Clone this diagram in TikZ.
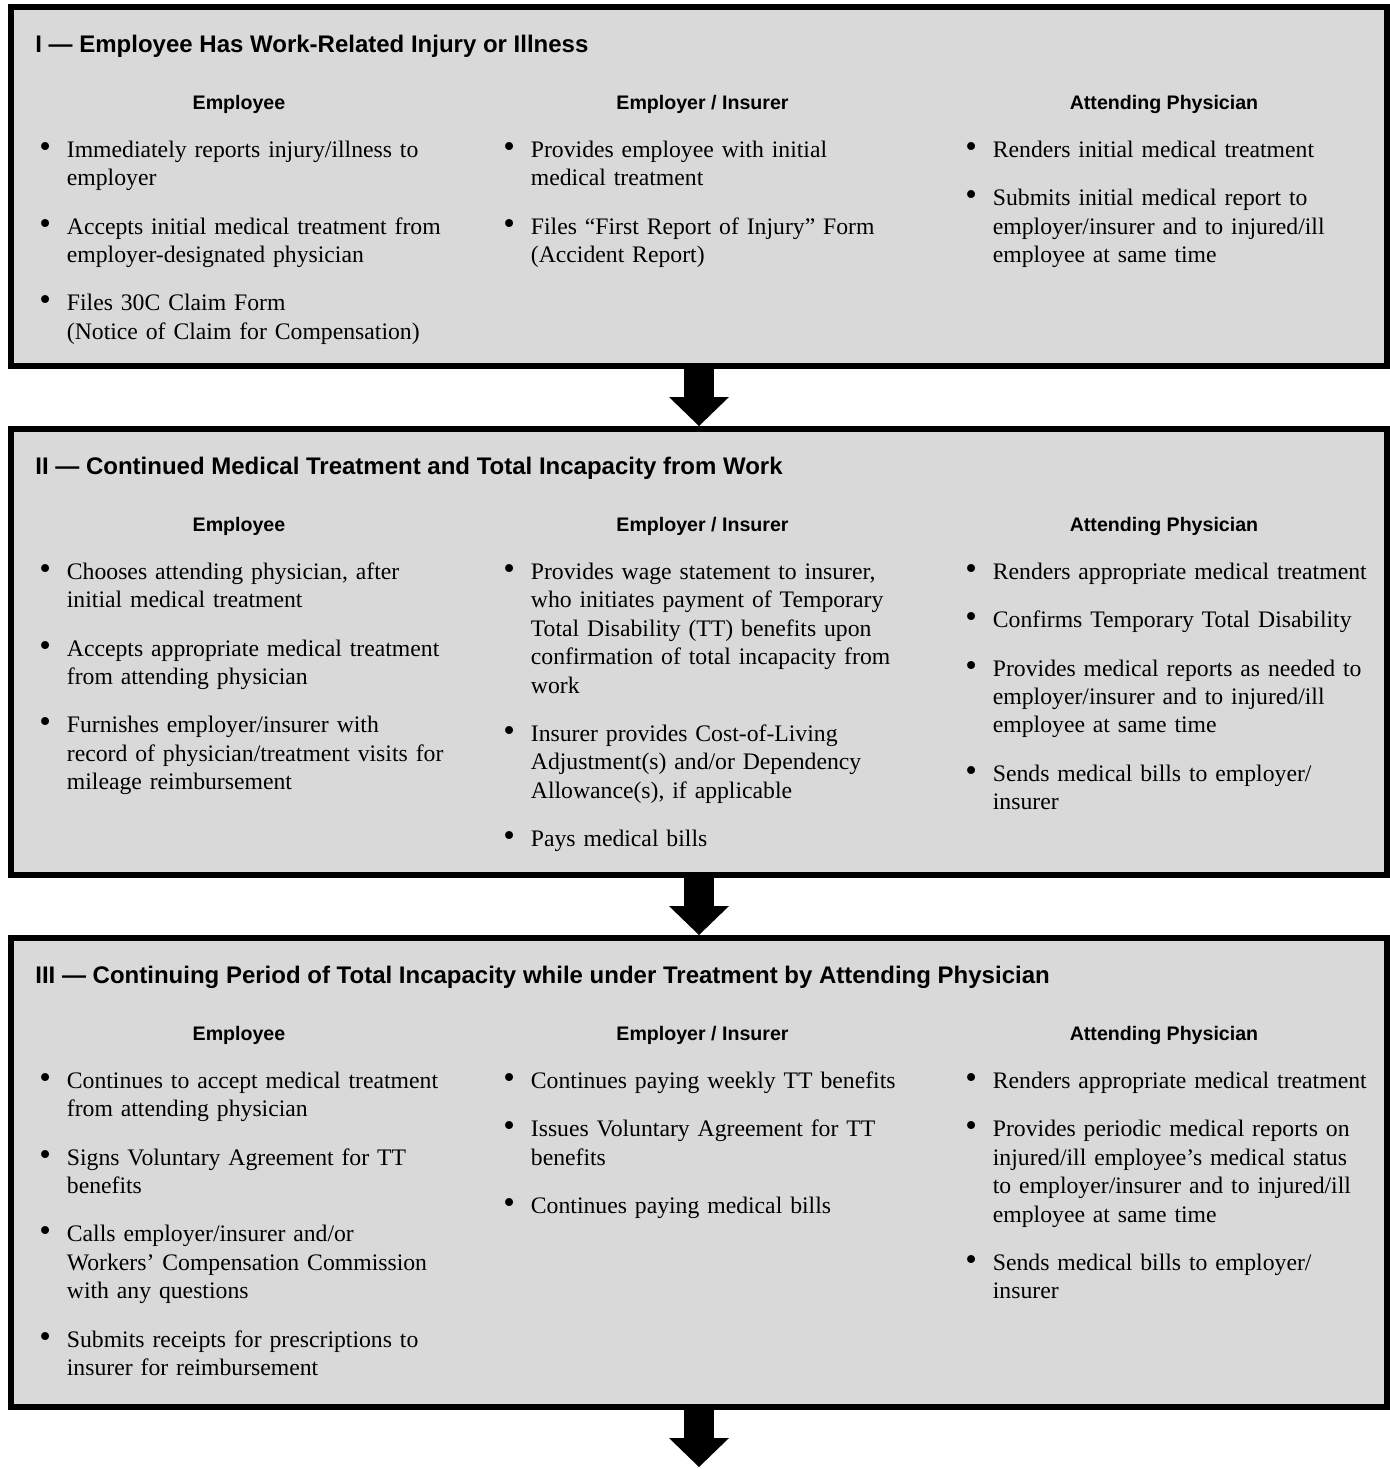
\documentclass[tikz,border=0pt]{standalone}
\usepackage{fontspec}
\setmainfont{Liberation Serif}
\setsansfont{Liberation Sans}
\usepackage{graphicx}
\usepackage{xcolor}
\usepackage{tikz}
\usetikzlibrary{positioning,arrows.meta,calc}
\definecolor{boxgray}{RGB}{217,217,217}
\newcommand{\bitem}[1]{\noindent\hangindent=13.75pt\hangafter=1%
  \makebox[13.75pt][l]{\scalebox{1.4}{\textbullet}}#1\par\vspace{9.95pt}}

\begin{document}
\begin{tikzpicture}[
    x=0.5pt, y=-0.5pt,
    stage/.style={
        draw,
        line width=3pt,
        fill=boxgray,
        minimum width=688pt,
        inner sep=0pt
    },
    title/.style={font=\fontsize{12pt}{14pt}\sffamily\bfseries,
                  anchor=base west, inner sep=0pt},
    colhead/.style={font=\fontsize{9.8pt}{12pt}\sffamily\bfseries,
                    anchor=base, inner sep=0pt},
    col/.style={text width=215pt, anchor=base west, inner sep=0pt,
                font=\fontsize{11.85pt}{14.2pt}\selectfont},
    flow/.style={line width=15pt,
                 -{Triangle[length=14.5pt,width=30pt,line width=0pt]}}
]
\useasboundingbox (0,0) rectangle (1390,1469);

\node[stage, minimum height=179.5pt] (s1) at (699,186.5) {};
\node[stage, minimum height=223pt] (s2) at (699,652) {};
\node[stage, minimum height=234.5pt] (s3) at (699,1172.5) {};

\draw[flow] (s1) -- (s2);
\draw[flow] (s2) -- (s3);
\coordinate (out) at ([yshift=-28.5pt]s3.south);
\draw[flow] (s3.south) -- (out);

% stage titles
\node[title] (t1) at ([xshift=13.5pt,yshift=-24.15pt]s1.north west)
    {I — Employee Has Work-Related Injury or Illness};
\node[title] (t2) at ([xshift=13.5pt,yshift=-24.15pt]s2.north west)
    {II — Continued Medical Treatment and Total Incapacity from Work};
\node[title] (t3) at ([xshift=13.5pt,yshift=-24.15pt]s3.north west)
    {III — Continuing Period of Total Incapacity while under Treatment by Attending Physician};

% column headings, same in every stage
\foreach \s in {s1,s2,s3}{
    \node[colhead] (\s-hemp) at ([xshift=115.5pt,yshift=-52.75pt]\s.north west) {Employee};
    \node[colhead] (\s-hins) at ([xshift=347.25pt,yshift=-52.75pt]\s.north west) {Employer / Insurer};
    \node[colhead] (\s-hphy) at ([xshift=578pt,yshift=-52.75pt]\s.north west) {Attending Physician};
}

% stage I
\node[col] (s1-emp) at ([xshift=15.5pt,yshift=-76.75pt]s1.north west) {%
    \bitem{Immediately reports injury/illness to\newline employer}
    \bitem{Accepts initial medical treatment from\newline employer-designated physician}
    \bitem{Files 30C Claim Form\newline (Notice of Claim for Compensation)}};
\node[col] (s1-ins) at ([xshift=247.5pt,yshift=-76.75pt]s1.north west) {%
    \bitem{Provides employee with initial\newline medical treatment}
    \bitem{Files “First Report of Injury” Form\newline (Accident Report)}};
\node[col] (s1-phy) at ([xshift=478.5pt,yshift=-76.75pt]s1.north west) {%
    \bitem{Renders initial medical treatment}
    \bitem{Submits initial medical report to\newline employer/insurer and to injured/ill\newline employee at same time}};

% stage II
\node[col] (s2-emp) at ([xshift=15.5pt,yshift=-76.75pt]s2.north west) {%
    \bitem{Chooses attending physician, after\newline initial medical treatment}
    \bitem{Accepts appropriate medical treatment\newline from attending physician}
    \bitem{Furnishes employer/insurer with\newline record of physician/treatment visits for\newline mileage reimbursement}};
\node[col] (s2-ins) at ([xshift=247.5pt,yshift=-76.75pt]s2.north west) {%
    \bitem{Provides wage statement to insurer,\newline who initiates payment of Temporary\newline Total Disability (TT) benefits upon\newline confirmation of total incapacity from\newline work}
    \bitem{Insurer provides Cost-of-Living\newline Adjustment(s) and/or Dependency\newline Allowance(s), if applicable}
    \bitem{Pays medical bills}};
\node[col] (s2-phy) at ([xshift=478.5pt,yshift=-76.75pt]s2.north west) {%
    \bitem{Renders appropriate medical treatment}
    \bitem{Confirms Temporary Total Disability}
    \bitem{Provides medical reports as needed to\newline employer/insurer and to injured/ill\newline employee at same time}
    \bitem{Sends medical bills to employer/\newline insurer}};

% stage III
\node[col] (s3-emp) at ([xshift=15.5pt,yshift=-76.75pt]s3.north west) {%
    \bitem{Continues to accept medical treatment\newline from attending physician}
    \bitem{Signs Voluntary Agreement for TT\newline benefits}
    \bitem{Calls employer/insurer and/or\newline Workers’ Compensation Commission\newline with any questions}
    \bitem{Submits receipts for prescriptions to\newline insurer for reimbursement}};
\node[col] (s3-ins) at ([xshift=247.5pt,yshift=-76.75pt]s3.north west) {%
    \bitem{Continues paying weekly TT benefits}
    \bitem{Issues Voluntary Agreement for TT\newline benefits}
    \bitem{Continues paying medical bills}};
\node[col] (s3-phy) at ([xshift=478.5pt,yshift=-76.75pt]s3.north west) {%
    \bitem{Renders appropriate medical treatment}
    \bitem{Provides periodic medical reports on\newline injured/ill employee’s medical status\newline to employer/insurer and to injured/ill\newline employee at same time}
    \bitem{Sends medical bills to employer/\newline insurer}};

\end{tikzpicture}
\end{document}
